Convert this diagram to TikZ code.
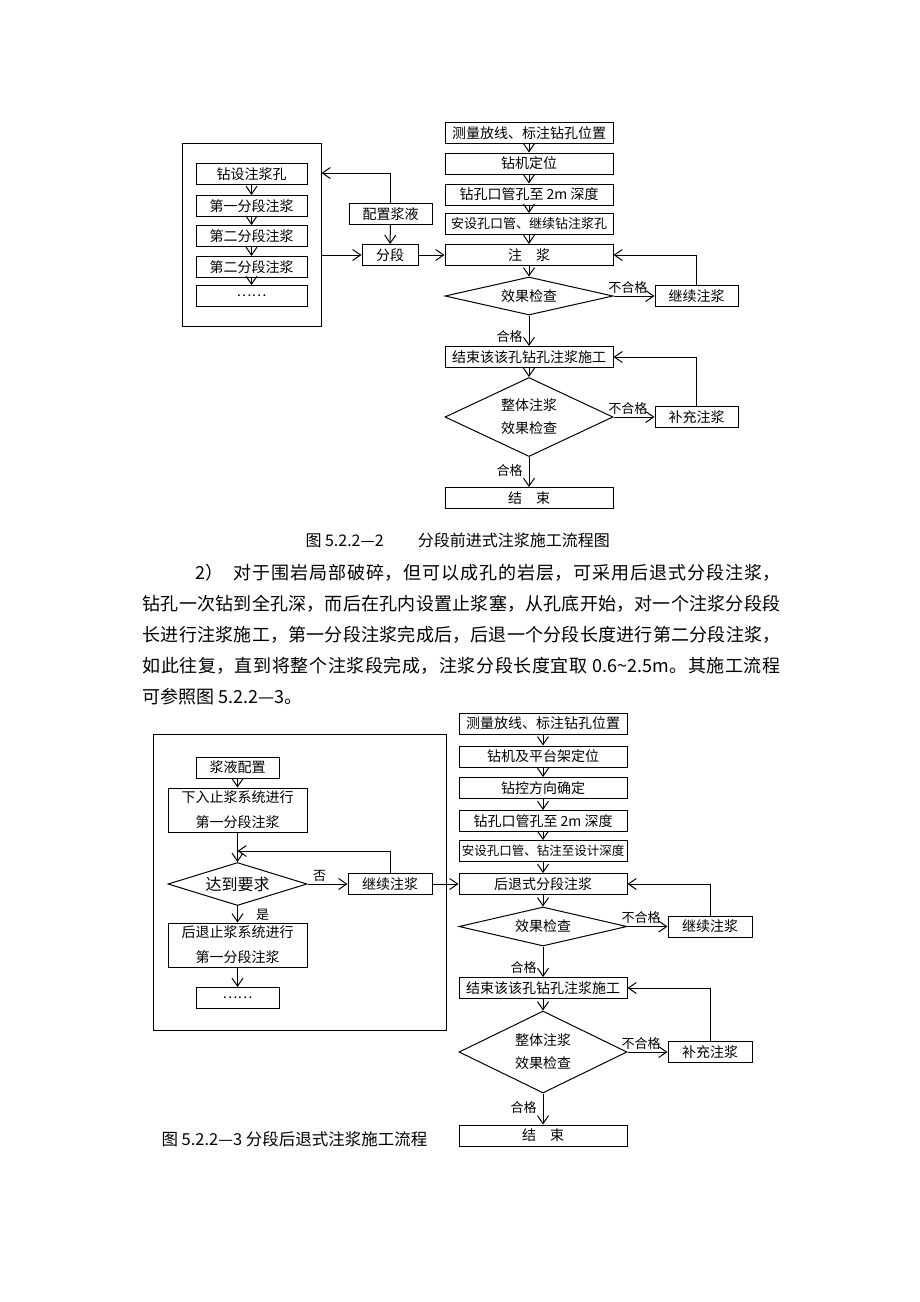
\documentclass[tikz,border=0pt]{standalone}
\usepackage{fontspec}
\setmainfont{Noto Sans CJK SC}
\usetikzlibrary{shapes.geometric,arrows.meta}
\XeTeXlinebreaklocale "zh"
\XeTeXlinebreakskip=0pt plus 1pt

\begin{document}
\begin{tikzpicture}[x=1pt, y=-1pt, line width=1pt, >={Straight Barb[length=8pt,width=11pt]},
    main/.style = {draw, fill=white, inner sep=1pt, minimum height=21pt, font=\fontsize{14}{16}\selectfont, align=center},
    check/.style = {draw, fill=white, diamond, inner sep=0pt, font=\fontsize{14}{23}\selectfont, align=center},
    lbl/.style = {inner sep=2pt, font=\fontsize{13}{15}\selectfont}]
    \useasboundingbox (0,0) rectangle (920,1302);

    % first flow chart
    \node[draw, minimum width=139pt, minimum height=183pt] (f1) at (251.5,235) {};
    \node[main, minimum width=111pt] (z1) at (251.5,174) {钻设注浆孔};
    \node[main, minimum width=111pt] (z2) at (251.5,206) {第一分段注浆};
    \node[main, minimum width=111pt] (z3) at (251.5,236) {第二分段注浆};
    \node[main, minimum width=111pt] (z4) at (251.5,267) {第二分段注浆};
    \node[main, minimum width=111pt] (z5) at (251.5,296) {……};
    \node[main, minimum width=83pt] (peizhi) at (390.5,214) {配置浆液};
    \node[main, minimum width=56pt] (fenduan) at (390,255) {分段};

    \node[main, minimum width=168pt] (a1) at (529,133) {测量放线、标注钻孔位置};
    \node[main, minimum width=168pt] (a2) at (529,163.5) {钻机定位};
    \node[main, minimum width=168pt] (a3) at (529,194.5) {钻孔口管孔至 2m 深度};
    \node[main, minimum width=168pt, font=\fontsize{13}{15}\selectfont] (a4) at (529,224) {安设孔口管、继续钻注浆孔};
    \node[main, minimum width=168pt] (a5) at (529,255) {注\hspace{1em}浆};
    \node[check, minimum width=168pt, minimum height=38pt, aspect=4.4] (d1) at (529,296) {效果检查};
    \node[main, minimum width=83pt] (j1) at (696.5,296) {继续注浆};
    \node[main, minimum width=168pt] (a6) at (529,357) {结束该该孔钻孔注浆施工};
    \node[check, minimum width=168pt, minimum height=79pt, aspect=2.1] (d2) at (529,417) {整体注浆\\效果检查};
    \node[main, minimum width=83pt] (b1) at (696.5,417) {补充注浆};
    \node[main, minimum width=168pt] (a7) at (529,498) {结\hspace{1em}束};

    \path[->] (z1) edge (z2) (z2) edge (z3) (z3) edge (z4) (z4) edge (z5);
    \path[->] (peizhi) edge (fenduan);
    \draw[->] (peizhi) |- (f1.east |- 0,173);
    \draw[->] (f1.east |- fenduan) -- (fenduan);
    \path[->] (fenduan) edge (a5);
    \path[->] (a1) edge (a2) (a2) edge (a3) (a3) edge (a4) (a4) edge (a5) (a5) edge (d1);
    \path[->] (d1) edge node[lbl, above, pos=0.35] {不合格} (j1);
    \draw[->] (j1) |- (a5);
    \path[->] (d1) edge node[lbl, left=4pt, pos=0.7] {合格} (a6);
    \path[->] (a6) edge (d2);
    \path[->] (d2) edge node[lbl, above, pos=0.35] {不合格} (b1);
    \draw[->] (b1) |- (a6);
    \path[->] (d2) edge node[lbl, left=4pt, pos=0.45] {合格} (a7);

    \node[anchor=west, inner sep=0pt, font=\fontsize{16}{18}\selectfont] (cap1) at (305,540) {图 5.2.2—2\hspace{34pt}分段前进式注浆施工流程图};
    \node[anchor=north west, inner sep=0pt, text width=638pt, align=justify, font=\fontsize{18}{31}\selectfont] (para) at (142,564)
        {\hspace*{53pt}2）\hspace{10pt}对于围岩局部破碎，但可以成孔的岩层，可采用后退式分段注浆，\linebreak
         钻孔一次钻到全孔深，而后在孔内设置止浆塞，从孔底开始，对一个注浆分段段\linebreak
         长进行注浆施工，第一分段注浆完成后，后退一个分段长度进行第二分段注浆，\linebreak
         如此往复，直到将整个注浆段完成，注浆分段长度宜取 0.6\textasciitilde 2.5m。其施工流程\linebreak
         可参照图 5.2.2—3。};

    % second flow chart
    \node[draw, minimum width=293pt, minimum height=296pt] (f2) at (299.5,882) {};
    \node[main, minimum width=83pt] (c1) at (237.5,767.5) {浆液配置};
    \node[main, minimum width=139pt, minimum height=44pt, font=\fontsize{14}{25}\selectfont] (c2) at (237.5,810) {下入止浆系统进行\\第一分段注浆};
    \node[check, minimum width=139pt, minimum height=43pt, aspect=3.2, font=\fontsize{16}{18}\selectfont] (dd) at (237.5,884) {达到要求};
    \node[main, minimum width=84pt] (jx) at (390,884) {继续注浆};
    \node[main, minimum width=139pt, minimum height=44pt, font=\fontsize{14}{25}\selectfont] (c3) at (237.5,945) {后退止浆系统进行\\第一分段注浆};
    \node[main, minimum width=83pt] (c4) at (237.5,998) {……};

    \node[main, minimum width=168pt] (r1) at (543,723.5) {测量放线、标注钻孔位置};
    \node[main, minimum width=168pt] (r2) at (543,756.5) {钻机及平台架定位};
    \node[main, minimum width=168pt] (r3) at (543,788) {钻控方向确定};
    \node[main, minimum width=168pt] (r4) at (543,821) {钻孔口管孔至 2m 深度};
    \node[main, minimum width=168pt, font=\fontsize{12.5}{15}\selectfont] (r5) at (543,851) {安设孔口管、钻注至设计深度};
    \node[main, minimum width=168pt] (r6) at (543,884) {后退式分段注浆};
    \node[check, minimum width=168pt, minimum height=39pt, aspect=4.3] (e1) at (543,926.5) {效果检查};
    \node[main, minimum width=84pt] (k1) at (710,926.5) {继续注浆};
    \node[main, minimum width=168pt] (r7) at (543,988) {结束该该孔钻孔注浆施工};
    \node[check, minimum width=168pt, minimum height=82pt, aspect=2.05] (e2) at (543,1052) {整体注浆\\效果检查};
    \node[main, minimum width=84pt] (k2) at (710,1052) {补充注浆};
    \node[main, minimum width=168pt] (r8) at (543,1135.5) {结\hspace{1em}束};

    \path[->] (c1) edge (c2) (c2) edge (dd);
    \path[->] (dd) edge node[lbl, above, pos=0.3] {否} (jx);
    \draw[->] (jx) |- (c2 |- 0,851);
    \path[->] (dd) edge node[lbl, right=16pt, pos=0.55] {是} (c3);
    \path[->] (c3) edge (c4);
    \path[->] (jx) edge (r6);
    \path[->] (r1) edge (r2) (r2) edge (r3) (r3) edge (r4) (r4) edge (r5) (r5) edge (r6) (r6) edge (e1);
    \path[->] (e1) edge node[lbl, above, pos=0.34] {不合格} (k1);
    \draw[->] (k1) |- (r6);
    \path[->] (e1) edge node[lbl, left=4pt, pos=0.68] {合格} (r7);
    \path[->] (r7) edge (e2);
    \path[->] (e2) edge node[lbl, above, pos=0.34] {不合格} (k2);
    \draw[->] (k2) |- (r7);
    \path[->] (e2) edge node[lbl, left=4pt, pos=0.45] {合格} (r8);

    \node[anchor=west, inner sep=0pt, font=\fontsize{16.5}{18}\selectfont] (cap2) at (161,1139) {图 5.2.2—3 分段后退式注浆施工流程};
\end{tikzpicture}
\end{document}
